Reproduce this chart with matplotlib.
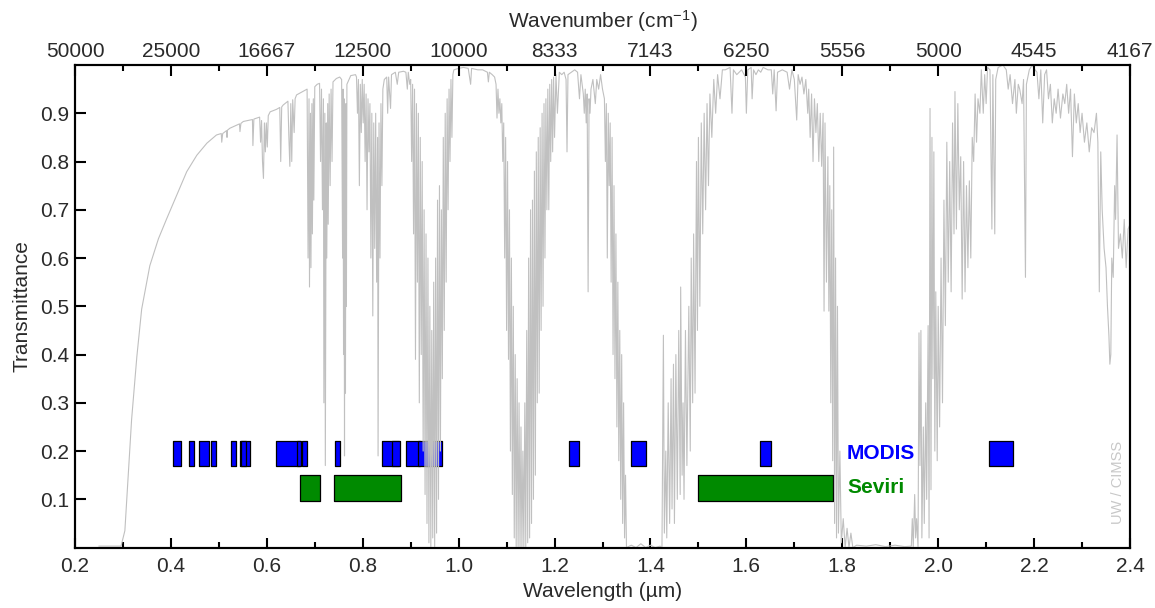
import matplotlib
matplotlib.use("Agg")
import matplotlib.pyplot as plt

plt.rcParams['font.family'] = ['Liberation Sans', 'DejaVu Sans']
plt.rcParams['mathtext.fontset'] = 'custom'
plt.rcParams['mathtext.rm'] = 'Liberation Sans'
plt.rcParams['mathtext.it'] = 'Liberation Sans'

# atmospheric transmittance, split by spectral region
uv_vis = [
    (0.250, 0.003), (0.296, 0.003), (0.304, 0.035), (0.311, 0.150), (0.318, 0.265),
    (0.329, 0.396), (0.339, 0.494), (0.356, 0.584), (0.374, 0.640), (0.391, 0.681),
    (0.412, 0.730), (0.433, 0.779), (0.454, 0.813), (0.475, 0.838), (0.495, 0.855),
    (0.505, 0.858), (0.506, 0.840), (0.508, 0.858), (0.516, 0.864), (0.517, 0.850),
    (0.518, 0.865), (0.523, 0.869), (0.543, 0.878), (0.544, 0.862), (0.546, 0.879),
    (0.551, 0.883), (0.570, 0.887), (0.571, 0.833), (0.573, 0.888), (0.579, 0.890),
    (0.585, 0.892), (0.587, 0.840), (0.589, 0.885), (0.591, 0.800), (0.593, 0.765),
    (0.595, 0.880), (0.597, 0.820), (0.599, 0.880), (0.601, 0.830), (0.603, 0.895),
    (0.607, 0.903),
]
red_o2 = [
    (0.620, 0.908), (0.627, 0.912), (0.629, 0.800), (0.631, 0.913), (0.634, 0.917),
    (0.644, 0.925), (0.646, 0.850), (0.648, 0.790), (0.650, 0.920), (0.652, 0.800),
    (0.654, 0.928), (0.657, 0.860), (0.659, 0.930), (0.662, 0.938), (0.675, 0.945),
    (0.684, 0.950), (0.686, 0.600), (0.688, 0.930), (0.689, 0.540), (0.691, 0.900),
    (0.692, 0.580), (0.694, 0.920), (0.695, 0.650), (0.697, 0.930), (0.698, 0.720),
    (0.700, 0.955), (0.705, 0.960), (0.710, 0.962), (0.712, 0.800), (0.714, 0.950),
    (0.716, 0.700), (0.718, 0.930), (0.719, 0.300), (0.721, 0.900), (0.722, 0.170),
    (0.724, 0.880), (0.725, 0.600), (0.727, 0.920), (0.728, 0.670), (0.730, 0.940),
    (0.732, 0.750), (0.734, 0.950), (0.736, 0.800), (0.738, 0.965), (0.745, 0.972),
    (0.752, 0.975), (0.756, 0.970), (0.758, 0.600), (0.759, 0.950), (0.760, 0.400),
    (0.761, 0.930), (0.762, 0.190), (0.763, 0.900), (0.764, 0.320), (0.765, 0.920),
    (0.766, 0.500), (0.767, 0.960), (0.775, 0.978), (0.785, 0.980),
]
nir_820 = [
    (0.787, 0.975), (0.789, 0.900), (0.791, 0.970), (0.793, 0.750), (0.795, 0.960),
    (0.797, 0.860), (0.799, 0.970), (0.801, 0.880), (0.803, 0.960), (0.805, 0.800),
    (0.807, 0.940), (0.809, 0.700), (0.811, 0.930), (0.813, 0.820), (0.815, 0.920),
    (0.817, 0.600), (0.819, 0.900), (0.821, 0.480), (0.823, 0.880), (0.825, 0.620),
    (0.827, 0.900), (0.829, 0.550), (0.831, 0.850), (0.832, 0.190), (0.834, 0.880),
    (0.836, 0.600), (0.838, 0.920), (0.840, 0.750), (0.842, 0.950), (0.845, 0.970),
    (0.850, 0.975), (0.852, 0.900), (0.854, 0.975), (0.858, 0.910), (0.860, 0.980),
    (0.868, 0.985), (0.872, 0.960), (0.875, 0.985), (0.885, 0.987), (0.890, 0.985),
    (0.893, 0.950), (0.895, 0.985), (0.898, 0.960),
]
h2o_940 = [
    (0.900, 0.970), (0.902, 0.800), (0.904, 0.960), (0.906, 0.650), (0.908, 0.950),
    (0.910, 0.390), (0.912, 0.920), (0.914, 0.550), (0.916, 0.900), (0.918, 0.300),
    (0.920, 0.850), (0.922, 0.400), (0.924, 0.800), (0.926, 0.200), (0.928, 0.700),
    (0.930, 0.110), (0.932, 0.650), (0.934, 0.050), (0.936, 0.600), (0.938, 0.010),
    (0.940, 0.500), (0.942, 0.000), (0.944, 0.450), (0.946, 0.020), (0.948, 0.550),
    (0.950, 0.000), (0.952, 0.600), (0.954, 0.030), (0.956, 0.720), (0.958, 0.100),
    (0.960, 0.750), (0.962, 0.200), (0.964, 0.700), (0.966, 0.350), (0.968, 0.850),
    (0.970, 0.450), (0.972, 0.900), (0.974, 0.550), (0.976, 0.930), (0.978, 0.700),
    (0.980, 0.950), (0.982, 0.800), (0.984, 0.970), (0.986, 0.850), (0.988, 0.980),
    (0.990, 0.990), (1.000, 0.993), (1.010, 0.995), (1.020, 0.993), (1.025, 0.960),
    (1.027, 0.993), (1.040, 0.990), (1.050, 0.990), (1.060, 0.985), (1.062, 0.965),
    (1.064, 0.985), (1.070, 0.980), (1.075, 0.975),
]
h2o_1130 = [
    (1.078, 0.960), (1.080, 0.890), (1.082, 0.950), (1.084, 0.900), (1.086, 0.930),
    (1.088, 0.880), (1.090, 0.920), (1.092, 0.800), (1.094, 0.880), (1.096, 0.600),
    (1.098, 0.850), (1.100, 0.450), (1.102, 0.800), (1.104, 0.390), (1.106, 0.700),
    (1.108, 0.200), (1.110, 0.600), (1.112, 0.110), (1.114, 0.500), (1.116, 0.020),
    (1.118, 0.400), (1.120, 0.000), (1.122, 0.350), (1.124, 0.000), (1.126, 0.300),
    (1.128, 0.000), (1.130, 0.250), (1.132, 0.000), (1.134, 0.200), (1.136, 0.000),
    (1.138, 0.300), (1.140, 0.000), (1.142, 0.450), (1.144, 0.010), (1.146, 0.600),
    (1.148, 0.020), (1.150, 0.700), (1.152, 0.050), (1.154, 0.720), (1.156, 0.100),
    (1.158, 0.780), (1.160, 0.150), (1.162, 0.820), (1.164, 0.300), (1.166, 0.850),
    (1.168, 0.320), (1.170, 0.870), (1.172, 0.450), (1.174, 0.900), (1.176, 0.500),
    (1.178, 0.920), (1.180, 0.600), (1.182, 0.930), (1.184, 0.700), (1.186, 0.950),
    (1.188, 0.700), (1.190, 0.960), (1.192, 0.800), (1.194, 0.970), (1.196, 0.820),
    (1.198, 0.975), (1.200, 0.850), (1.203, 0.980), (1.206, 0.900), (1.210, 0.985),
    (1.215, 0.980), (1.220, 0.985), (1.224, 0.970), (1.226, 0.820), (1.228, 0.980),
    (1.235, 0.985), (1.242, 0.990), (1.248, 0.985), (1.252, 0.930), (1.255, 0.980),
    (1.260, 0.940), (1.262, 0.900), (1.264, 0.950), (1.266, 0.880), (1.268, 0.940),
    (1.270, 0.530), (1.272, 0.930), (1.274, 0.900), (1.276, 0.950), (1.280, 0.970),
    (1.285, 0.920), (1.288, 0.970), (1.292, 0.950), (1.296, 0.980), (1.300, 0.950),
]
h2o_1400 = [
    (1.304, 0.930), (1.306, 0.800), (1.308, 0.920), (1.310, 0.600), (1.312, 0.900),
    (1.314, 0.750), (1.316, 0.880), (1.318, 0.550), (1.320, 0.850), (1.322, 0.400),
    (1.324, 0.750), (1.326, 0.350), (1.328, 0.650), (1.330, 0.250), (1.332, 0.550),
    (1.334, 0.180), (1.336, 0.450), (1.338, 0.100), (1.340, 0.400), (1.342, 0.050),
    (1.344, 0.300), (1.346, 0.020), (1.348, 0.150), (1.350, 0.000), (1.360, 0.005),
    (1.370, 0.000), (1.380, 0.008), (1.390, 0.000), (1.400, 0.005), (1.410, 0.000),
    (1.420, 0.003), (1.424, 0.000), (1.427, 0.440), (1.429, 0.030), (1.432, 0.200),
    (1.434, 0.020), (1.437, 0.300), (1.440, 0.050), (1.443, 0.350), (1.445, 0.080),
    (1.448, 0.380), (1.450, 0.050), (1.453, 0.400), (1.456, 0.100), (1.459, 0.450),
    (1.462, 0.110), (1.463, 0.540), (1.466, 0.150), (1.468, 0.300), (1.470, 0.100),
    (1.473, 0.450), (1.476, 0.170), (1.480, 0.500), (1.483, 0.200), (1.485, 0.600),
    (1.488, 0.300), (1.490, 0.650), (1.493, 0.320), (1.496, 0.800), (1.498, 0.450),
    (1.500, 0.850), (1.503, 0.500), (1.506, 0.880), (1.509, 0.650), (1.512, 0.900),
    (1.515, 0.700), (1.518, 0.920), (1.521, 0.750), (1.524, 0.940), (1.528, 0.850),
    (1.532, 0.970), (1.536, 0.900), (1.540, 0.980), (1.545, 0.930), (1.550, 0.990),
]
swir_1600 = [
    (1.556, 0.990), (1.566, 0.995), (1.570, 0.900), (1.573, 0.990), (1.580, 0.980),
    (1.590, 0.990), (1.598, 0.975), (1.600, 0.900), (1.603, 0.990), (1.610, 0.995),
    (1.612, 0.930), (1.615, 0.990), (1.620, 0.980), (1.625, 0.990), (1.630, 0.985),
    (1.635, 0.995), (1.645, 0.990), (1.652, 0.990), (1.655, 0.940), (1.658, 0.990),
    (1.662, 0.905), (1.665, 0.985), (1.675, 0.990), (1.685, 0.985), (1.690, 0.950),
    (1.695, 0.990), (1.700, 0.970), (1.705, 0.886), (1.708, 0.980), (1.712, 0.960),
    (1.716, 0.975), (1.720, 0.940), (1.724, 0.970), (1.728, 0.900), (1.730, 0.950),
    (1.733, 0.850), (1.736, 0.940), (1.739, 0.800), (1.742, 0.930), (1.745, 0.860),
    (1.748, 0.920), (1.751, 0.800), (1.754, 0.900), (1.757, 0.790), (1.760, 0.900),
    (1.762, 0.490), (1.764, 0.880), (1.767, 0.550), (1.770, 0.810), (1.772, 0.490),
    (1.774, 0.750), (1.776, 0.300), (1.778, 0.700), (1.780, 0.180), (1.782, 0.830),
    (1.784, 0.050), (1.786, 0.600), (1.788, 0.020), (1.790, 0.500), (1.792, 0.030),
    (1.795, 0.200), (1.798, 0.010), (1.802, 0.060), (1.806, 0.000), (1.810, 0.040),
    (1.814, 0.000), (1.818, 0.030), (1.822, 0.000), (1.830, 0.005), (1.850, 0.003),
    (1.870, 0.006), (1.890, 0.002), (1.910, 0.005), (1.930, 0.002), (1.944, 0.003),
]
h2o_1900 = [
    (1.946, 0.060), (1.948, 0.000), (1.951, 0.110), (1.953, 0.020), (1.955, 0.060),
    (1.958, 0.000), (1.960, 0.445), (1.962, 0.170), (1.964, 0.450), (1.966, 0.020),
    (1.969, 0.250), (1.971, 0.050), (1.974, 0.300), (1.976, 0.100), (1.979, 0.460),
    (1.981, 0.020), (1.983, 0.910), (1.985, 0.120), (1.987, 0.850), (1.989, 0.350),
    (1.991, 0.820), (1.993, 0.200), (1.995, 0.530), (1.998, 0.180), (2.000, 0.500),
    (2.003, 0.250), (2.006, 0.600), (2.009, 0.300), (2.012, 0.720), (2.015, 0.460),
    (2.018, 0.840), (2.021, 0.550), (2.024, 0.800), (2.027, 0.530), (2.030, 0.880),
    (2.033, 0.650), (2.035, 0.945), (2.038, 0.660), (2.041, 0.920), (2.044, 0.700),
    (2.047, 0.810), (2.050, 0.515), (2.053, 0.800), (2.056, 0.530), (2.059, 0.750),
    (2.062, 0.580), (2.065, 0.760), (2.068, 0.600), (2.071, 0.850), (2.074, 0.800),
    (2.077, 0.940), (2.080, 0.840), (2.083, 0.930), (2.087, 0.900), (2.090, 0.990),
    (2.094, 0.900), (2.097, 0.980), (2.100, 0.920),
]
swir_2200 = [
    (2.103, 0.995), (2.108, 0.990), (2.112, 0.660), (2.114, 0.980), (2.118, 0.650),
    (2.120, 0.970), (2.125, 0.995), (2.135, 1.000), (2.142, 0.990), (2.146, 0.950),
    (2.150, 0.980), (2.155, 0.920), (2.160, 0.970), (2.163, 0.900), (2.167, 0.960),
    (2.170, 0.950), (2.175, 0.920), (2.178, 0.970), (2.182, 0.560), (2.184, 0.960),
    (2.190, 0.990), (2.196, 1.000), (2.202, 0.990), (2.206, 0.985), (2.210, 0.930),
    (2.214, 0.990), (2.218, 0.880), (2.222, 0.980), (2.226, 0.990), (2.230, 0.930),
    (2.234, 0.960), (2.238, 0.880), (2.242, 0.930), (2.246, 0.900), (2.250, 0.950),
    (2.255, 0.890), (2.260, 0.940), (2.264, 0.920), (2.268, 0.960), (2.272, 0.900),
    (2.276, 0.950), (2.280, 0.810), (2.284, 0.940), (2.288, 0.880), (2.292, 0.920),
    (2.296, 0.860), (2.300, 0.900), (2.305, 0.840), (2.310, 0.880), (2.315, 0.820),
    (2.320, 0.870), (2.325, 0.860), (2.330, 0.900), (2.333, 0.840), (2.336, 0.530),
    (2.339, 0.820), (2.342, 0.700), (2.346, 0.620), (2.350, 0.580), (2.353, 0.500),
    (2.356, 0.440), (2.358, 0.380), (2.360, 0.400), (2.362, 0.600), (2.365, 0.560),
    (2.368, 0.750), (2.370, 0.680), (2.373, 0.855), (2.376, 0.620), (2.380, 0.650),
    (2.384, 0.600), (2.388, 0.680), (2.392, 0.580), (2.396, 0.660), (2.400, 0.670),
]

# instrument bands (um)
modis_start = [0.620, 0.841, 0.459, 0.545, 1.230, 1.628, 2.105, 0.405, 0.438, 0.483,
               0.526, 0.546, 0.662, 0.673, 0.743, 0.862, 0.890, 0.931, 0.915, 1.360]
modis_end = [0.670, 0.876, 0.479, 0.565, 1.250, 1.652, 2.155, 0.420, 0.448, 0.493,
             0.536, 0.556, 0.672, 0.683, 0.753, 0.877, 0.920, 0.941, 0.965, 1.390]
seviri_start = [0.670, 0.740, 1.500]
seviri_end = [0.710, 0.880, 1.780]

wl_ticks = [0.2, 0.4, 0.6, 0.8, 1.0, 1.2, 1.4, 1.6, 1.8, 2.0, 2.2, 2.4]
wl_minor = [0.3, 0.5, 0.7, 0.9, 1.1, 1.3, 1.5, 1.7, 1.9, 2.1, 2.3]
wl_labels = ["0.2", "0.4", "0.6", "0.8", "1.0", "1.2", "1.4", "1.6", "1.8", "2.0", "2.2", "2.4"]
wn_labels = ["50000", "25000", "16667", "12500", "10000", "8333", "7143", "6250",
             "5556", "5000", "4545", "4167"]
tr_ticks = [0.1, 0.2, 0.3, 0.4, 0.5, 0.6, 0.7, 0.8, 0.9]

spectrum = uv_vis + red_o2 + nir_820 + h2o_940 + h2o_1130 + h2o_1400 + swir_1600 + h2o_1900 + swir_2200
wl = [p[0] for p in spectrum]
tr = [p[1] for p in spectrum]

txt = '#2a2a2a'

fig = plt.figure(figsize=(11.55, 6.08), dpi=100)
ax = fig.add_axes([75 / 1155, 60.4 / 608, 1055 / 1155, 482.6 / 608])

for s, e in zip(modis_start, modis_end):
    ax.broken_barh([(s, e - s)], (0.17, 0.05), facecolors='#0000ff',
                   edgecolors='black', linewidth=0.9, zorder=2)
for s, e in zip(seviri_start, seviri_end):
    ax.broken_barh([(s, e - s)], (0.097, 0.053), facecolors='#008a00',
                   edgecolors='black', linewidth=0.9, zorder=2)

ax.plot(wl, tr, color='#c0c0c0', linewidth=0.8, zorder=3)

ax.text(1.81, 0.196, "MODIS", color='#0000ff', fontsize=15, fontweight='bold',
        va='center', ha='left')
ax.text(1.81, 0.124, "Seviri", color='#008a00', fontsize=15, fontweight='bold',
        va='center', ha='left')
ax.text(2.376, 0.135, "UW / CIMSS", color='#c8c8c8', fontsize=10.5, rotation=90,
        va='center', ha='center')

ax.set_xlim(0.2, 2.4)
ax.set_ylim(0, 1.0)
ax.set_xticks(wl_ticks)
ax.set_xticklabels(wl_labels)
ax.set_xticks(wl_minor, minor=True)
ax.set_yticks(tr_ticks)
ax.tick_params(axis='both', which='both', direction='in', width=1.5,
               labelsize=15, labelcolor=txt)
ax.tick_params(axis='x', which='major', length=7.5, pad=7)
ax.tick_params(axis='x', which='minor', length=4)
ax.tick_params(axis='y', which='major', length=8, pad=4)
ax.set_xlabel("Wavelength (\u00b5m)", fontsize=15, color=txt, labelpad=4)
ax.set_ylabel("Transmittance", fontsize=15, color=txt, labelpad=6)
for sp in ax.spines.values():
    sp.set_linewidth(1.5)

top = ax.twiny()
top.set_xlim(ax.get_xlim())
top.set_xticks(wl_ticks)
top.set_xticklabels(wn_labels)
top.set_xticks(wl_minor, minor=True)
top.tick_params(axis='x', which='both', direction='in', width=1.5,
                labelsize=15, labelcolor=txt, pad=3)
top.tick_params(axis='x', which='major', length=8)
top.tick_params(axis='x', which='minor', length=4)
top.set_xlabel("Wavenumber (cm$^{-1}$)", fontsize=15, color=txt, labelpad=10)
for sp in top.spines.values():
    sp.set_linewidth(1.5)

fig.savefig("out.png", dpi=100)
